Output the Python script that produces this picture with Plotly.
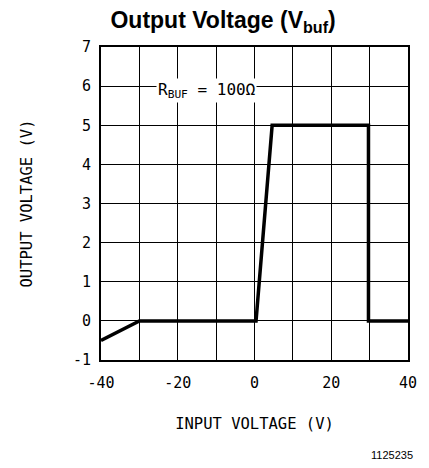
import plotly.graph_objects as go

input_v = [-40, -30, 0.4, 4.6, 29.7, 29.7, 40]
output_v = [-0.5, 0, 0, 5, 5, 0, 0]

x_ticks = [-40, -20, 0, 20, 40]
x_ticktext = ["-40", "-20", "0", "20", "40"]
y_ticks = [-1, 0, 1, 2, 3, 4, 5, 6, 7]
y_ticktext = ["-1", "0", "1", "2", "3", "4", "5", "6", "7"]

mono = "DejaVu Sans Mono"

fig = go.Figure()
fig.add_trace(go.Scatter(x=input_v, y=output_v, mode="lines",
                         line=dict(color="black", width=3.5), showlegend=False,
                         hoverinfo="skip"))

fig.update_layout(
    width=429, height=468,
    margin=dict(l=101, r=15, t=47, b=108),
    paper_bgcolor="white", plot_bgcolor="white",
    title=dict(text="<b>Output Voltage (V<sub>buf</sub>)</b>",
               font=dict(family="Liberation Sans, Arial", size=23, color="black"),
               x=0.52, xanchor="center", xref="container",
               y=0.957, yanchor="middle", yref="container"),
    xaxis=dict(range=[-40, 40], tickvals=x_ticks, ticktext=x_ticktext,
               showgrid=True, gridcolor="black", gridwidth=1,
               showline=True, linecolor="black", linewidth=2, mirror=True,
               ticks="", zeroline=False, ticklabelstandoff=8,
               tickfont=dict(family=mono, size=15, color="black"),
               title=dict(text="INPUT VOLTAGE (V)", standoff=27,
                          font=dict(family=mono, size=15.5, color="black"))),
    yaxis=dict(range=[-1, 7], tickvals=y_ticks, ticktext=y_ticktext,
               showgrid=True, gridcolor="black", gridwidth=1,
               showline=True, linecolor="black", linewidth=2, mirror=True,
               ticks="", zeroline=False, ticklabelstandoff=5,
               tickfont=dict(family=mono, size=15, color="black"),
               title=dict(text="OUTPUT VOLTAGE (V)", standoff=37,
                          font=dict(family=mono, size=15.5, color="black"))),
)

fig.update_xaxes(minor=dict(dtick=10, tick0=-40, showgrid=True,
                            gridcolor="black", gridwidth=1))

fig.add_annotation(x=-25.6, y=5.88, xref="x", yref="y", xanchor="left",
                   yanchor="middle", text="R<sub>BUF</sub> = 100\u2126",
                   showarrow=False, bgcolor="white",
                   font=dict(family=mono, size=16, color="black"))

fig.add_annotation(xref="x", x=40, xanchor="right", xshift=7,
                   yref="paper", y=-0.303, yanchor="middle",
                   text="1125235", showarrow=False,
                   font=dict(family="Liberation Sans, Arial", size=11, color="black"))

fig.write_html("out.html", post_script="document.body.style.margin='0';",
               config={"displayModeBar": False})
